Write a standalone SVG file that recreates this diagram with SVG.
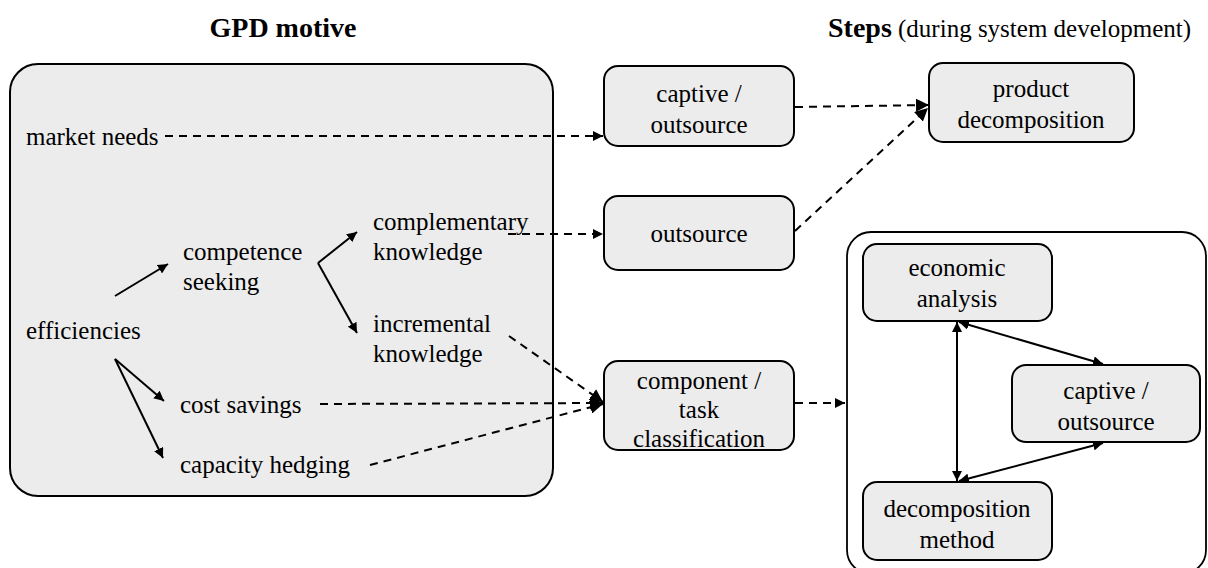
<svg xmlns="http://www.w3.org/2000/svg" width="1208" height="568" viewBox="0 0 1208 568" font-family="'Liberation Serif', 'DejaVu Serif', serif">
  <defs>
    <marker id="arrow" viewBox="0 0 10 10" refX="10" refY="5" markerWidth="10" markerHeight="10" markerUnits="userSpaceOnUse" orient="auto-start-reverse">
      <path d="M0,0 L10,5 L0,10 z" fill="#000"/>
    </marker>
    <marker id="arrowBig" viewBox="0 0 12 12" refX="12" refY="6" markerWidth="13" markerHeight="13" markerUnits="userSpaceOnUse" orient="auto-start-reverse">
      <path d="M0,0 L12,6 L0,12 z" fill="#000"/>
    </marker>
  </defs>
  <style>
    text { font-family: 'Liberation Serif', 'DejaVu Serif', serif; font-size: 25px; fill: #000; }
    .title { font-size: 28px; font-weight: bold; }
    .mid { text-anchor: middle; }
    .panel { fill: #ececec; stroke: #000; stroke-width: 2; }
    .box { fill: #ececec; stroke: #000; stroke-width: 2; }
    .frame { fill: none; stroke: #000; stroke-width: 1.8; }
    .solid { fill: none; stroke: #000; stroke-width: 2; }
    .dash { fill: none; stroke: #000; stroke-width: 2; stroke-dasharray: 8 6; }
  </style>

  <!-- headings -->
  <g id="headings">
    <text class="title mid" x="283" y="37">GPD motive</text>
    <text x="828" y="37"><tspan class="title">Steps</tspan> (during system development)</text>
  </g>

  <!-- motive panel -->
  <g id="motive-panel">
    <rect class="panel" x="10" y="64" width="543" height="432" rx="28"/>
  </g>
  <g id="market-needs"><text x="26" y="145">market needs</text></g>
  <g id="efficiencies"><text x="26" y="339">efficiencies</text></g>
  <g id="competence-seeking">
    <text x="183" y="260">competence</text>
    <text x="183" y="290">seeking</text>
  </g>
  <g id="complementary-knowledge">
    <text x="373" y="230">complementary</text>
    <text x="373" y="260">knowledge</text>
  </g>
  <g id="incremental-knowledge">
    <text x="373" y="332">incremental</text>
    <text x="373" y="362">knowledge</text>
  </g>
  <g id="cost-savings"><text x="180" y="413">cost savings</text></g>
  <g id="capacity-hedging"><text x="180" y="473">capacity hedging</text></g>

  <!-- step boxes -->
  <g id="captive-outsource-1">
    <rect class="box" x="604" y="66" width="190" height="80" rx="14"/>
    <text class="mid" x="699" y="102">captive /</text>
    <text class="mid" x="699" y="133">outsource</text>
  </g>
  <g id="product-decomposition">
    <rect class="box" x="929" y="63" width="205" height="79" rx="14"/>
    <text class="mid" x="1031" y="97">product</text>
    <text class="mid" x="1031" y="128">decomposition</text>
  </g>
  <g id="outsource">
    <rect class="box" x="604" y="196" width="190" height="74" rx="14"/>
    <text class="mid" x="699" y="242">outsource</text>
  </g>
  <g id="component-task-classification">
    <rect class="box" x="604" y="361" width="190" height="89" rx="14"/>
    <text class="mid" x="699" y="389">component /</text>
    <text class="mid" x="699" y="418">task</text>
    <text class="mid" x="699" y="447">classification</text>
  </g>

  <!-- analysis loop -->
  <g id="analysis-frame">
    <rect class="frame" x="847" y="232" width="359" height="342" rx="24"/>
  </g>
  <g id="economic-analysis">
    <rect class="box" x="863" y="244" width="189" height="77" rx="14"/>
    <text class="mid" x="957" y="276">economic</text>
    <text class="mid" x="957" y="307">analysis</text>
  </g>
  <g id="captive-outsource-2">
    <rect class="box" x="1012" y="365" width="188" height="77" rx="14"/>
    <text class="mid" x="1106" y="399">captive /</text>
    <text class="mid" x="1106" y="430">outsource</text>
  </g>
  <g id="decomposition-method">
    <rect class="box" x="863" y="482" width="189" height="78" rx="14"/>
    <text class="mid" x="957" y="517">decomposition</text>
    <text class="mid" x="957" y="548">method</text>
  </g>

  <!-- connectors -->
  <g id="connectors">
    <!-- solid arrows inside the motive panel -->
    <line class="solid" x1="115" y1="296" x2="168" y2="264" marker-end="url(#arrow)"/>
    <polyline class="solid" points="357,232 318,263" marker-start="url(#arrow)"/>
    <line class="solid" x1="318" y1="263" x2="357" y2="333" marker-end="url(#arrow)"/>
    <line class="solid" x1="115" y1="359" x2="164" y2="401" marker-end="url(#arrow)"/>
    <line class="solid" x1="115" y1="359" x2="163" y2="458" marker-end="url(#arrow)"/>

    <!-- dashed flows into the steps -->
    <line class="dash" x1="165" y1="136" x2="603" y2="136" marker-end="url(#arrow)"/>
    <line class="dash" x1="508" y1="234" x2="603" y2="234" marker-end="url(#arrow)"/>
    <line class="dash" x1="795" y1="107" x2="929" y2="105" marker-end="url(#arrowBig)"/>
    <line class="dash" x1="795" y1="231" x2="928" y2="108" marker-end="url(#arrowBig)"/>
    <line class="dash" x1="509" y1="336" x2="603" y2="402" marker-end="url(#arrowBig)"/>
    <line class="dash" x1="320" y1="404" x2="603" y2="403" marker-end="url(#arrowBig)"/>
    <line class="dash" x1="370" y1="465" x2="603" y2="404" marker-end="url(#arrowBig)"/>
    <line class="dash" x1="795" y1="403" x2="845" y2="403" marker-end="url(#arrow)"/>

    <!-- two-way links in the analysis loop -->
    <line class="solid" x1="957" y1="322" x2="957" y2="481" marker-start="url(#arrow)" marker-end="url(#arrow)"/>
    <line class="solid" x1="959" y1="322" x2="1103" y2="364" marker-start="url(#arrow)" marker-end="url(#arrow)"/>
    <line class="solid" x1="959" y1="481" x2="1103" y2="443" marker-start="url(#arrow)" marker-end="url(#arrow)"/>
  </g>
</svg>
